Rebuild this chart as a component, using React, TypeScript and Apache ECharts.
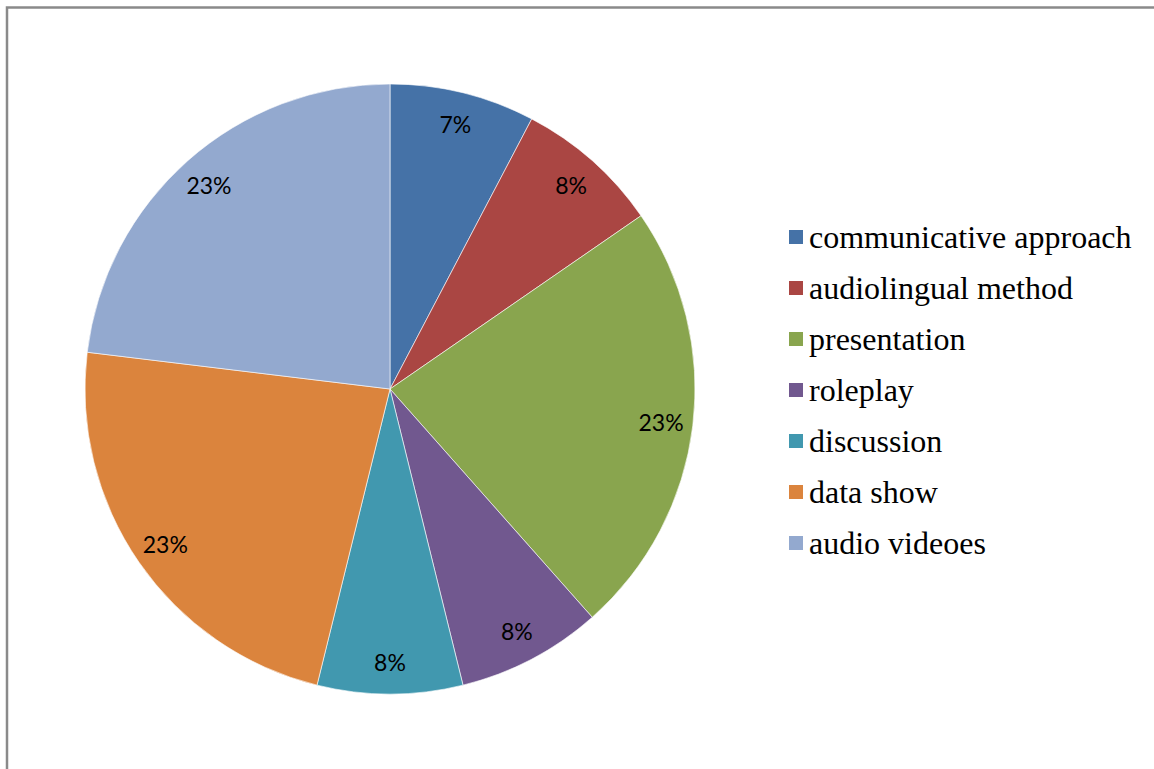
import React, { useEffect, useRef } from "react";
import * as echarts from "echarts";

const categories = [
  "communicative approach",
  "audiolingual method",
  "presentation",
  "roleplay",
  "discussion",
  "data show",
  "audio videoes",
];
const counts = [1, 1, 3, 1, 1, 3, 3];
const percentLabels = ["7%", "8%", "23%", "8%", "8%", "23%", "23%"];
const colors = ["#4572A7", "#AA4643", "#89A54E", "#71588F", "#4198AF", "#DB843D", "#93A9CF"];

export default function App() {
  const ref = useRef<HTMLDivElement>(null);
  useEffect(() => {
    if (!ref.current) return;
    const chart = echarts.init(ref.current, undefined, { renderer: "svg" });
    const center = [390, 389];
    chart.setOption({
      animation: false,
      backgroundColor: "#ffffff",
      graphic: [
        {
          type: "rect",
          shape: { x: 7, y: 7.5, width: 1170, height: 800 },
          style: { fill: "none", stroke: "#8a8a8a", lineWidth: 2.5 },
          silent: true,
        },
      ],
      legend: {
        orient: "vertical",
        left: 787,
        top: 221,
        padding: 0,
        itemWidth: 16,
        itemHeight: 16,
        itemGap: 19,
        icon: "rect",
        selectedMode: false,
        data: categories.map((c, i) => ({ name: c, itemStyle: { color: colors[i] } })),
        textStyle: {
          fontFamily: "Liberation Serif",
          fontSize: 32,
          color: "#000000",
        },
      },
      series: [
        {
          type: "pie",
          center,
          radius: [0, 305],
          startAngle: 90,
          clockwise: true,
          silent: true,
          label: { show: false },
          labelLine: { show: false },
          itemStyle: { borderColor: "#ffffff", borderWidth: 0.6 },
          data: categories.map((c, i) => ({
            name: c,
            value: counts[i],
            itemStyle: { color: colors[i] },
          })),
        },
        {
          type: "pie",
          center,
          radius: [235, 305],
          startAngle: 90,
          clockwise: true,
          silent: true,
          z: 3,
          itemStyle: { color: "rgba(0,0,0,0)", borderWidth: 0 },
          label: {
            show: true,
            position: "inside",
            fontFamily: "Lato",
            fontSize: 23,
            color: "#000000",
            formatter: (p: any) => percentLabels[p.dataIndex],
          },
          labelLine: { show: false },
          data: categories.map((c, i) => ({ name: c, value: counts[i] })),
        },
      ],
    });
    return () => chart.dispose();
  }, []);
  return (
    <div
      ref={ref}
      style={{ position: "absolute", left: 0, top: 0, width: 1154, height: 769 }}
    />
  );
}
